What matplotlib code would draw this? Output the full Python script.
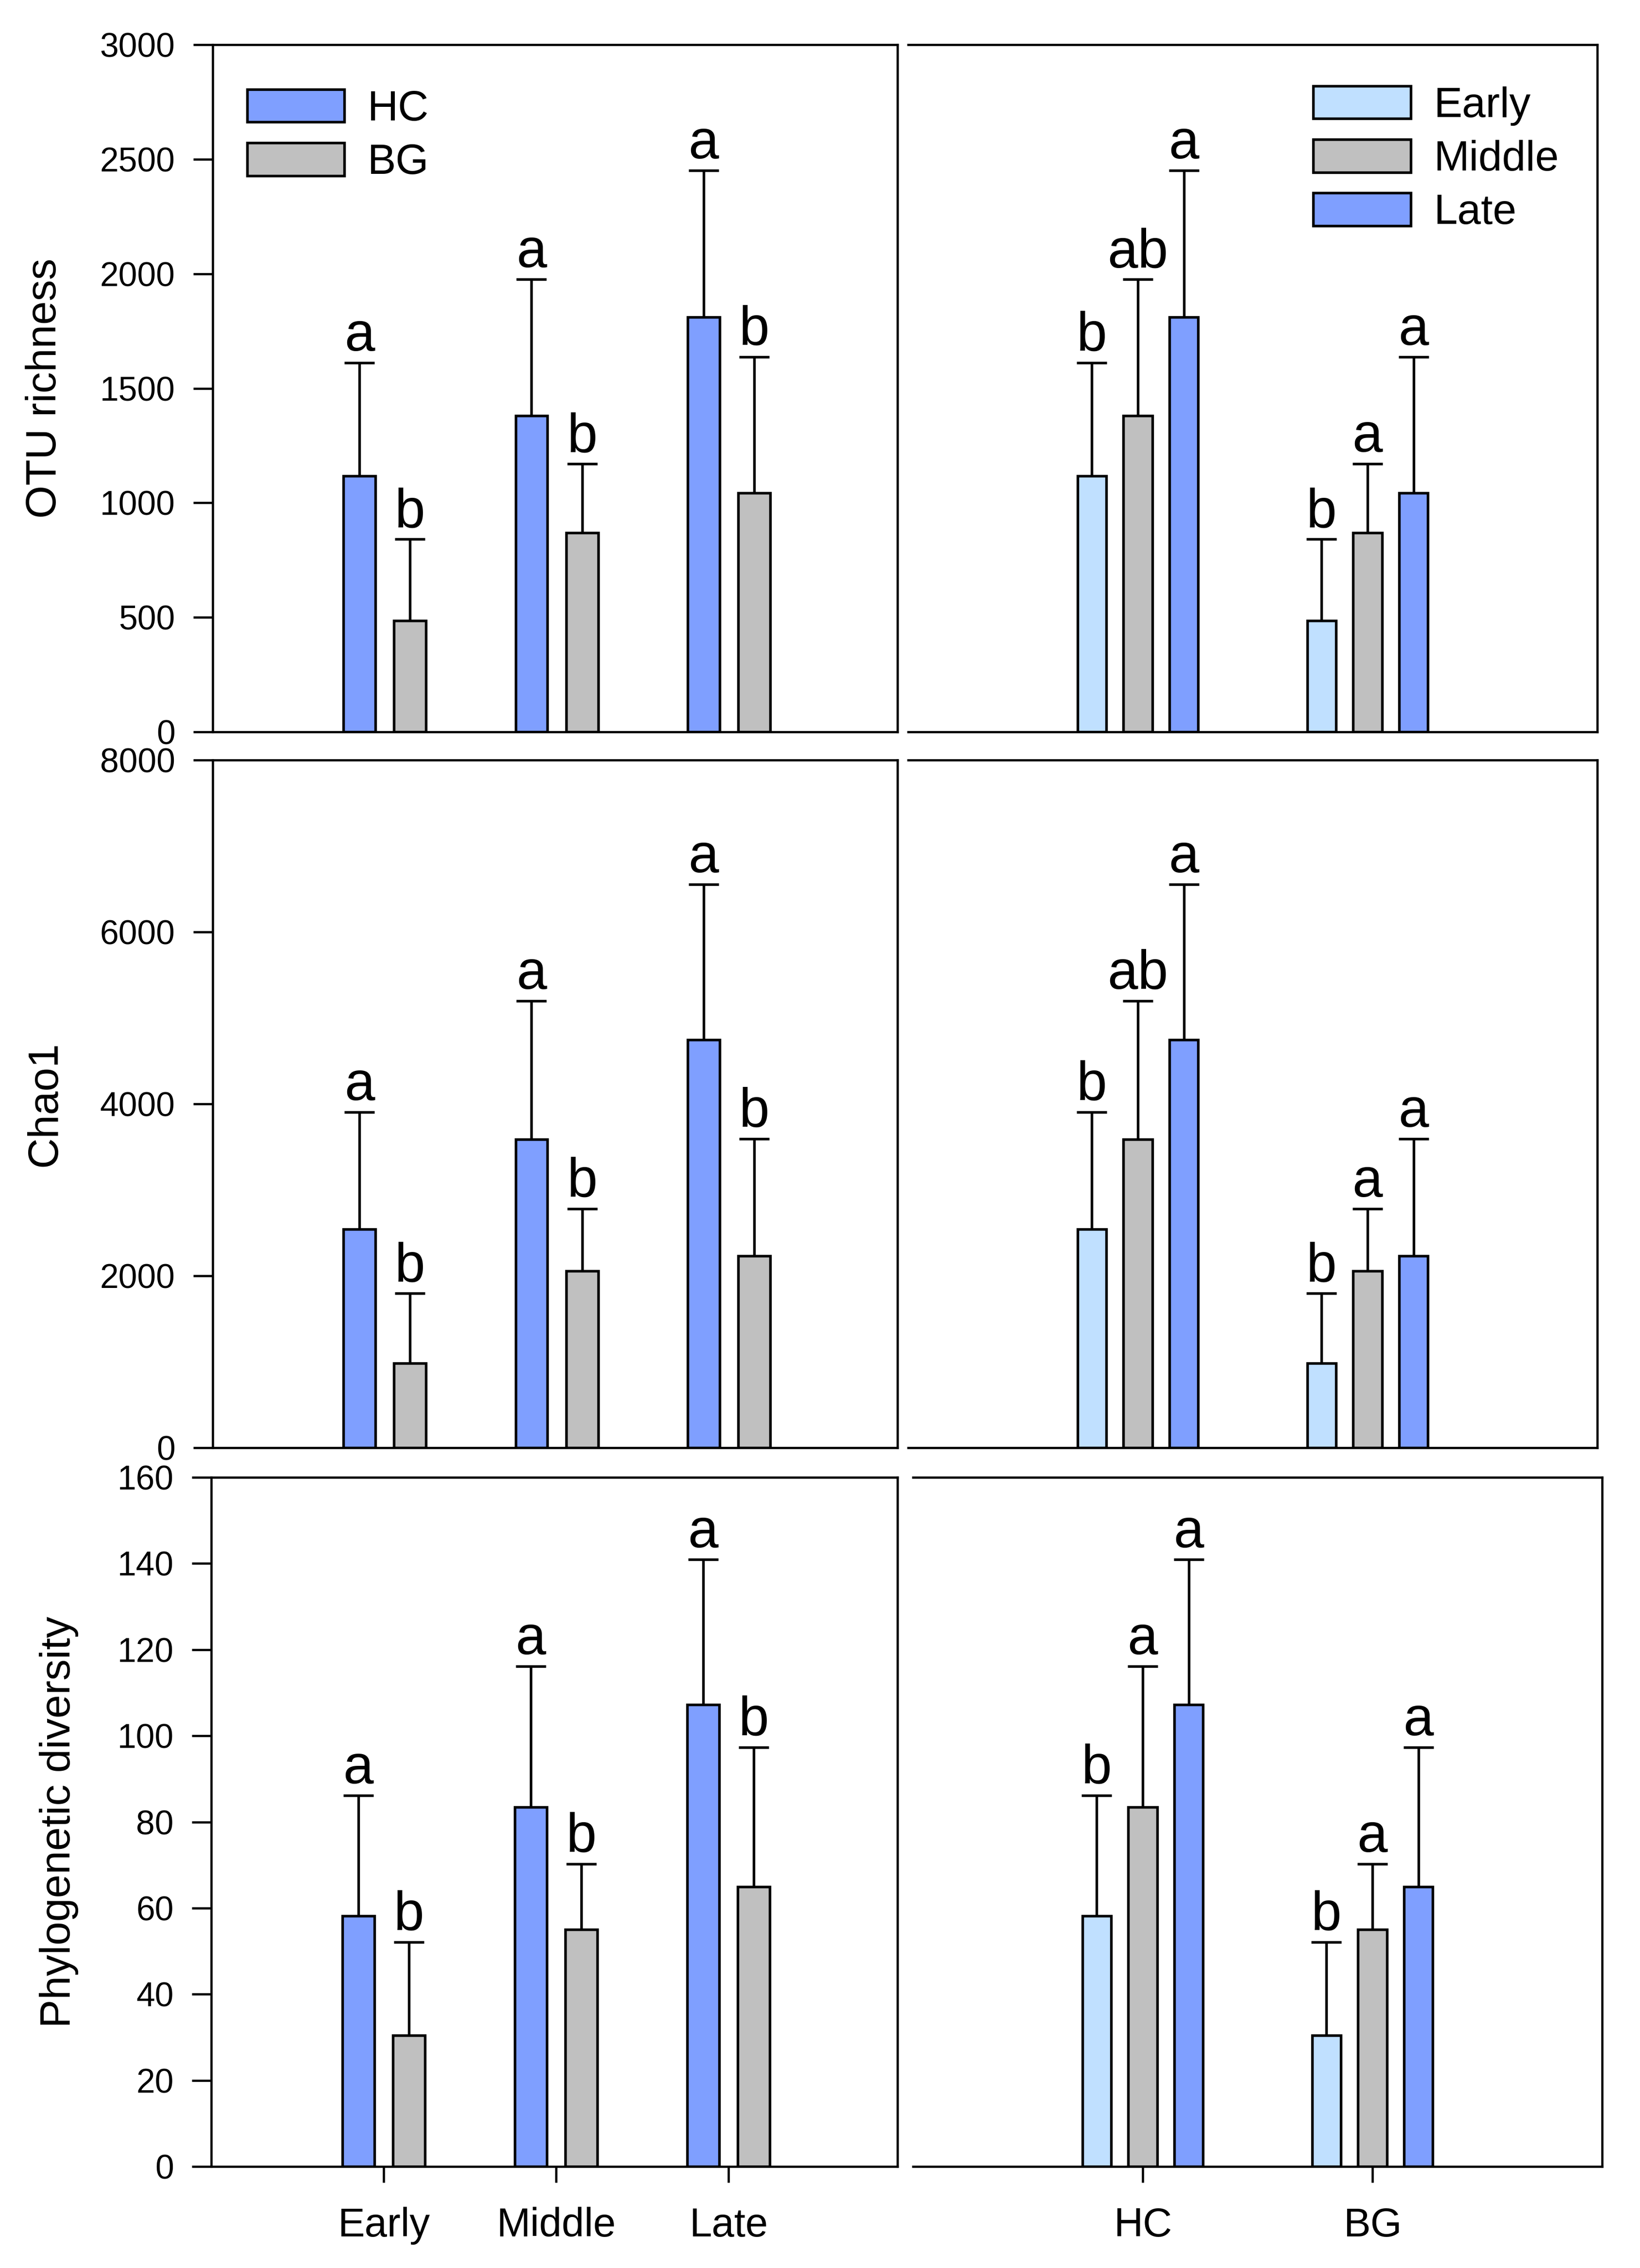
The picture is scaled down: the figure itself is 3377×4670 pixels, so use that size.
import matplotlib
matplotlib.use("Agg")
import matplotlib.pyplot as plt
import matplotlib.patches as mpatches
import numpy as np

plt.rcParams["font.family"] = ["Liberation Sans", "DejaVu Sans"]

stages = ["Early", "Middle", "Late"]
sites = ["HC", "BG"]

# means and upper error (SD), order Early, Middle, Late
otu_hc = [1118, 1380, 1810]
otu_hc_err = [494, 595, 641]
otu_bg = [485, 870, 1043]
otu_bg_err = [356, 300, 594]

chao_hc = [2544, 3588, 4747]
chao_hc_err = [1361, 1609, 1805]
chao_bg = [981, 2059, 2232]
chao_bg_err = [813, 721, 1361]

pd_hc = [58.2, 83.4, 107.2]
pd_hc_err = [28.0, 32.7, 33.8]
pd_bg = [30.5, 55.0, 64.9]
pd_bg_err = [21.6, 15.3, 32.4]

# significance letters
left_hc_letters = ["a", "a", "a"]
left_bg_letters = ["b", "b", "b"]
right_hc_letters = [["b", "ab", "a"], ["b", "ab", "a"], ["b", "a", "a"]]
right_bg_letters = [["b", "a", "a"], ["b", "a", "a"], ["b", "a", "a"]]

ylabels = ["OTU richness", "Chao1", "Phylogenetic diversity"]
ymaxes = [3000, 8000, 160]
ysteps = [500, 2000, 20]

c_hc = "#7F9FFF"
c_bg = "#C0C0C0"
c_early = "#C0E0FF"
stage_colors = [c_early, c_bg, c_hc]

W, H = 3377, 4670
fig = plt.figure(figsize=(W / 300, H / 300), dpi=300)
fig.patch.set_facecolor("white")

rows_px = [(92, 1507), (1565, 2981), (3042, 4461)]
left_px = [(438, 1848), (438, 1848), (435, 1848)]
right_px = [(1870, 3289), (1870, 3289), (1880, 3299)]

LW = 1.3
LET = 27


def make_ax(cols, rows):
    x0, x1 = cols
    y0, y1 = rows
    return fig.add_axes([x0 / W, 1 - y1 / H, (x1 - x0) / W, (y1 - y0) / H])


def letter(ax, x, y, s):
    ax.annotate(s, (x, y), xytext=(0, 6), textcoords="offset points",
                ha="center", va="baseline", fontsize=LET)


def bars(ax, x, vals, errs, color, width, label=None):
    ax.bar(x, vals, width, color=color, edgecolor="black", linewidth=LW,
           label=label, zorder=2)
    # upper error only: stem plus a cap at the top
    ax.errorbar(x, vals, yerr=[np.zeros(len(vals)), errs], fmt="none",
                ecolor="black", elinewidth=LW, capsize=0, zorder=3)
    ax.plot(x, vals + errs, ls="none", marker="_", ms=15, mew=LW,
            color="black", zorder=3)


def legend(ax, colors, labels, x, y):
    handles = [mpatches.Patch(facecolor=c, edgecolor="black", linewidth=LW)
               for c in colors]
    ax.legend(handles, labels, loc="upper left", bbox_to_anchor=(x, y),
              frameon=False, fontsize=21, handlelength=2.29, handleheight=0.81,
              handletextpad=0.55, labelspacing=0.32, borderpad=0, borderaxespad=0)


def xaxis(ax, ticks, labels, show):
    if show:
        ax.set_xticks(ticks)
        ax.set_xticklabels(labels)
        ax.tick_params(axis="x", direction="out", length=8, width=1.1, pad=12,
                       labelsize=20)
    else:
        ax.tick_params(axis="x", bottom=False, labelbottom=False)


data = [(otu_hc, otu_hc_err, otu_bg, otu_bg_err),
        (chao_hc, chao_hc_err, chao_bg, chao_bg_err),
        (pd_hc, pd_hc_err, pd_bg, pd_bg_err)]

for r, (hc, hc_e, bg, bg_e) in enumerate(data):
    hc, hc_e, bg, bg_e = map(np.array, (hc, hc_e, bg, bg_e))
    last = r == 2

    # left: grouped by stage
    ax = make_ax(left_px[r], rows_px[r])
    x = np.arange(1, len(stages) + 1)
    bars(ax, x - 0.147, hc, hc_e, c_hc, 0.186, "HC")
    bars(ax, x + 0.147, bg, bg_e, c_bg, 0.186, "BG")
    for i in range(len(stages)):
        letter(ax, x[i] - 0.147, hc[i] + hc_e[i], left_hc_letters[i])
        letter(ax, x[i] + 0.147, bg[i] + bg_e[i], left_bg_letters[i])
    ax.set_xlim(0, 3.98)
    ax.set_ylim(0, ymaxes[r])
    ax.set_yticks(np.arange(0, ymaxes[r] + 1, ysteps[r]))
    ax.tick_params(axis="y", direction="out", length=9.6, width=1.1, pad=9,
                   labelsize=16.7)
    ax.set_ylabel(ylabels[r], fontsize=21, va="center")
    ax.yaxis.set_label_coords(-0.245 if r < 2 else -0.222, 0.5)
    xaxis(ax, x, stages, last)
    for s in ax.spines.values():
        s.set_linewidth(1.1)
    if r == 0:
        legend(ax, [c_hc, c_bg], sites, 0.05, 0.935)

    # right: grouped by site
    ax = make_ax(right_px[r], rows_px[r])
    xs = np.arange(1, len(sites) + 1)
    for j, st in enumerate(stages):
        off = (j - 1) * 0.2
        vals = np.array([hc[j], bg[j]])
        errs = np.array([hc_e[j], bg_e[j]])
        bars(ax, xs + off, vals, errs, stage_colors[j], 0.125, st)
        letter(ax, xs[0] + off, vals[0] + errs[0], right_hc_letters[r][j])
        letter(ax, xs[1] + off, vals[1] + errs[1], right_bg_letters[r][j])
    ax.set_xlim(0, 3.0)
    ax.set_ylim(0, ymaxes[r])
    ax.spines["left"].set_visible(False)
    ax.tick_params(axis="y", left=False, labelleft=False)
    xaxis(ax, xs, sites, last)
    for s in ax.spines.values():
        s.set_linewidth(1.1)
    if r == 0:
        legend(ax, stage_colors, stages, 0.588, 0.94)

fig.savefig("out.png", dpi=300)
